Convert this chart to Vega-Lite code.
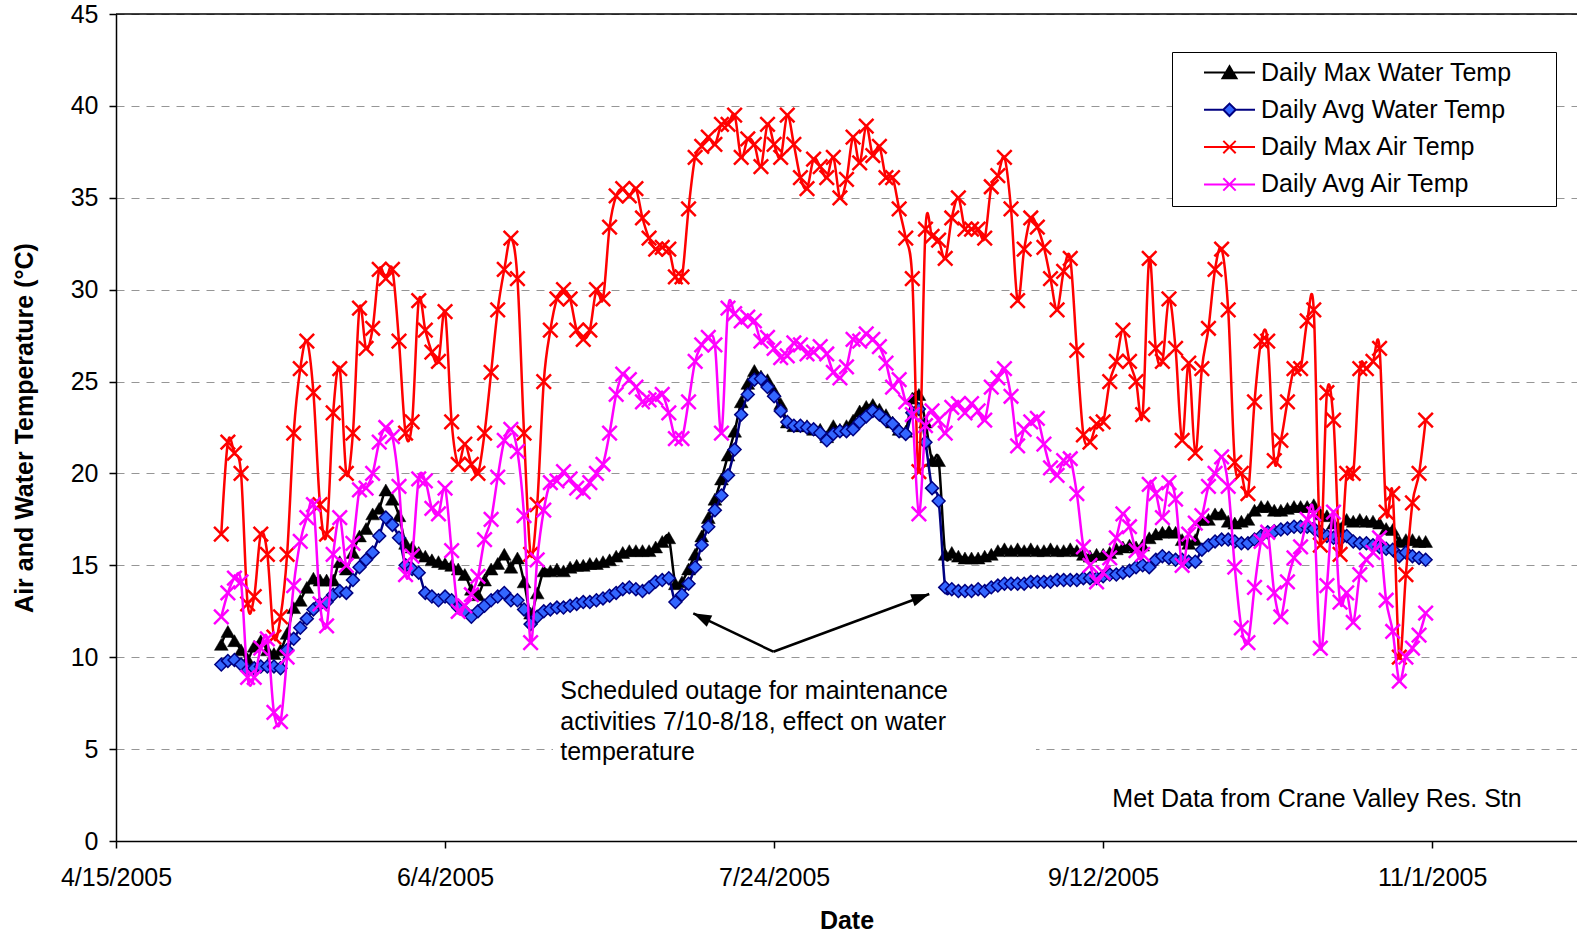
{
  "$schema": "https://vega.github.io/schema/vega-lite/v6.json",
  "width": 1461,
  "height": 827,
  "autosize": {"type": "none"},
  "padding": {"left": 116, "top": 14, "right": 0, "bottom": 94},
  "background": "white",
  "config": {
    "font": "Liberation Sans",
    "view": {"stroke": null},
    "axis": {"labelColor": "black", "titleColor": "black", "labelFont": "Liberation Sans", "titleFont": "Liberation Sans"}
  },
  "layer": [
    {
      "data": {"values": [
        {"date":"2005-05-01","maxWater":10.7,"avgWater":9.6,"maxAir":16.7,"avgAir":12.2},
        {"date":"2005-05-02","maxWater":11.4,"avgWater":9.8,"maxAir":21.7,"avgAir":13.5},
        {"date":"2005-05-03","maxWater":10.9,"avgWater":9.85,"maxAir":21.1,"avgAir":14.3},
        {"date":"2005-05-04","maxWater":10.4,"avgWater":9.6,"maxAir":20.0,"avgAir":14.1},
        {"date":"2005-05-05","maxWater":9.9,"avgWater":9.3,"maxAir":12.9,"avgAir":8.9},
        {"date":"2005-05-06","maxWater":10.6,"avgWater":9.4,"maxAir":13.3,"avgAir":8.9},
        {"date":"2005-05-07","maxWater":10.9,"avgWater":9.5,"maxAir":16.7,"avgAir":10.5},
        {"date":"2005-05-08","maxWater":10.4,"avgWater":9.5,"maxAir":15.6,"avgAir":11.0},
        {"date":"2005-05-09","maxWater":10.2,"avgWater":9.5,"maxAir":11.1,"avgAir":7.0},
        {"date":"2005-05-10","maxWater":10.4,"avgWater":9.4,"maxAir":12.2,"avgAir":6.5},
        {"date":"2005-05-11","maxWater":11.3,"avgWater":10.4,"maxAir":15.6,"avgAir":10.0},
        {"date":"2005-05-12","maxWater":12.7,"avgWater":11.0,"maxAir":22.2,"avgAir":13.9},
        {"date":"2005-05-13","maxWater":13.1,"avgWater":11.6,"maxAir":25.7,"avgAir":16.3},
        {"date":"2005-05-14","maxWater":13.8,"avgWater":12.1,"maxAir":27.2,"avgAir":17.6},
        {"date":"2005-05-15","maxWater":14.3,"avgWater":12.6,"maxAir":24.4,"avgAir":18.3},
        {"date":"2005-05-16","maxWater":14.2,"avgWater":12.9,"maxAir":18.3,"avgAir":12.9},
        {"date":"2005-05-17","maxWater":14.2,"avgWater":13.0,"maxAir":16.7,"avgAir":11.7},
        {"date":"2005-05-18","maxWater":14.2,"avgWater":13.4,"maxAir":23.3,"avgAir":15.6},
        {"date":"2005-05-19","maxWater":15.2,"avgWater":13.6,"maxAir":25.7,"avgAir":17.6},
        {"date":"2005-05-20","maxWater":14.8,"avgWater":13.5,"maxAir":20.0,"avgAir":15.0},
        {"date":"2005-05-21","maxWater":15.7,"avgWater":14.2,"maxAir":22.2,"avgAir":16.2},
        {"date":"2005-05-22","maxWater":16.6,"avgWater":14.9,"maxAir":29.0,"avgAir":19.1},
        {"date":"2005-05-23","maxWater":17.0,"avgWater":15.3,"maxAir":26.8,"avgAir":19.2},
        {"date":"2005-05-24","maxWater":17.8,"avgWater":15.7,"maxAir":27.9,"avgAir":20.0},
        {"date":"2005-05-25","maxWater":18.1,"avgWater":16.6,"maxAir":31.1,"avgAir":21.7},
        {"date":"2005-05-26","maxWater":19.1,"avgWater":17.6,"maxAir":30.6,"avgAir":22.5},
        {"date":"2005-05-27","maxWater":18.6,"avgWater":17.2,"maxAir":31.1,"avgAir":22.0},
        {"date":"2005-05-28","maxWater":17.7,"avgWater":16.5,"maxAir":27.2,"avgAir":19.3},
        {"date":"2005-05-29","maxWater":16.2,"avgWater":15.0,"maxAir":22.2,"avgAir":14.5},
        {"date":"2005-05-30","maxWater":16.0,"avgWater":14.8,"maxAir":22.8,"avgAir":15.5},
        {"date":"2005-05-31","maxWater":15.7,"avgWater":14.6,"maxAir":29.4,"avgAir":19.7},
        {"date":"2005-06-01","maxWater":15.5,"avgWater":13.5,"maxAir":27.8,"avgAir":19.6},
        {"date":"2005-06-02","maxWater":15.3,"avgWater":13.3,"maxAir":26.6,"avgAir":18.1},
        {"date":"2005-06-03","maxWater":15.2,"avgWater":13.1,"maxAir":26.1,"avgAir":17.8},
        {"date":"2005-06-04","maxWater":15.1,"avgWater":13.3,"maxAir":28.8,"avgAir":19.2},
        {"date":"2005-06-05","maxWater":15.0,"avgWater":13.1,"maxAir":22.8,"avgAir":15.8},
        {"date":"2005-06-06","maxWater":14.8,"avgWater":12.7,"maxAir":20.5,"avgAir":12.5},
        {"date":"2005-06-07","maxWater":14.5,"avgWater":12.5,"maxAir":21.6,"avgAir":12.8},
        {"date":"2005-06-08","maxWater":13.7,"avgWater":12.2,"maxAir":20.5,"avgAir":13.4},
        {"date":"2005-06-09","maxWater":13.4,"avgWater":12.5,"maxAir":20.0,"avgAir":14.4},
        {"date":"2005-06-10","maxWater":14.2,"avgWater":12.8,"maxAir":22.2,"avgAir":16.4},
        {"date":"2005-06-11","maxWater":14.8,"avgWater":13.1,"maxAir":25.5,"avgAir":17.5},
        {"date":"2005-06-12","maxWater":15.1,"avgWater":13.3,"maxAir":28.9,"avgAir":19.8},
        {"date":"2005-06-13","maxWater":15.6,"avgWater":13.5,"maxAir":31.1,"avgAir":21.8},
        {"date":"2005-06-14","maxWater":14.9,"avgWater":13.1,"maxAir":32.8,"avgAir":22.4},
        {"date":"2005-06-15","maxWater":15.4,"avgWater":13.1,"maxAir":30.6,"avgAir":21.2},
        {"date":"2005-06-16","maxWater":14.1,"avgWater":12.6,"maxAir":22.2,"avgAir":17.7},
        {"date":"2005-06-17","maxWater":12.4,"avgWater":11.8,"maxAir":15.6,"avgAir":10.8},
        {"date":"2005-06-18","maxWater":13.5,"avgWater":12.2,"maxAir":18.3,"avgAir":15.3},
        {"date":"2005-06-19","maxWater":14.7,"avgWater":12.5,"maxAir":25.0,"avgAir":18.0},
        {"date":"2005-06-20","maxWater":14.7,"avgWater":12.6,"maxAir":27.8,"avgAir":19.5},
        {"date":"2005-06-21","maxWater":14.8,"avgWater":12.7,"maxAir":29.5,"avgAir":19.6},
        {"date":"2005-06-22","maxWater":14.7,"avgWater":12.7,"maxAir":30.0,"avgAir":20.1},
        {"date":"2005-06-23","maxWater":14.9,"avgWater":12.8,"maxAir":29.5,"avgAir":19.7},
        {"date":"2005-06-24","maxWater":15.0,"avgWater":12.9,"maxAir":27.8,"avgAir":19.2},
        {"date":"2005-06-25","maxWater":15.0,"avgWater":13.0,"maxAir":27.3,"avgAir":19.0},
        {"date":"2005-06-26","maxWater":15.1,"avgWater":13.0,"maxAir":27.8,"avgAir":19.5},
        {"date":"2005-06-27","maxWater":15.1,"avgWater":13.1,"maxAir":30.0,"avgAir":20.0},
        {"date":"2005-06-28","maxWater":15.2,"avgWater":13.2,"maxAir":29.5,"avgAir":20.5},
        {"date":"2005-06-29","maxWater":15.3,"avgWater":13.35,"maxAir":33.4,"avgAir":22.2},
        {"date":"2005-06-30","maxWater":15.5,"avgWater":13.5,"maxAir":35.1,"avgAir":24.3},
        {"date":"2005-07-01","maxWater":15.7,"avgWater":13.7,"maxAir":35.5,"avgAir":25.4},
        {"date":"2005-07-02","maxWater":15.8,"avgWater":13.8,"maxAir":35.1,"avgAir":25.1},
        {"date":"2005-07-03","maxWater":15.8,"avgWater":13.7,"maxAir":35.5,"avgAir":24.7},
        {"date":"2005-07-04","maxWater":15.8,"avgWater":13.6,"maxAir":33.9,"avgAir":23.9},
        {"date":"2005-07-05","maxWater":15.8,"avgWater":13.8,"maxAir":32.8,"avgAir":24.0},
        {"date":"2005-07-06","maxWater":16.0,"avgWater":14.1,"maxAir":32.2,"avgAir":24.1},
        {"date":"2005-07-07","maxWater":16.3,"avgWater":14.2,"maxAir":32.3,"avgAir":24.3},
        {"date":"2005-07-08","maxWater":16.5,"avgWater":14.3,"maxAir":32.2,"avgAir":23.3},
        {"date":"2005-07-09","maxWater":14.0,"avgWater":13.0,"maxAir":30.7,"avgAir":21.9},
        {"date":"2005-07-10","maxWater":14.1,"avgWater":13.4,"maxAir":30.7,"avgAir":21.9},
        {"date":"2005-07-11","maxWater":14.8,"avgWater":14.0,"maxAir":34.4,"avgAir":23.9},
        {"date":"2005-07-12","maxWater":15.6,"avgWater":14.9,"maxAir":37.2,"avgAir":26.1},
        {"date":"2005-07-13","maxWater":16.6,"avgWater":16.1,"maxAir":37.8,"avgAir":27.0},
        {"date":"2005-07-14","maxWater":17.6,"avgWater":17.1,"maxAir":38.3,"avgAir":27.4},
        {"date":"2005-07-15","maxWater":18.6,"avgWater":18.0,"maxAir":37.9,"avgAir":27.0},
        {"date":"2005-07-16","maxWater":19.7,"avgWater":18.8,"maxAir":39.0,"avgAir":22.2},
        {"date":"2005-07-17","maxWater":21.0,"avgWater":19.9,"maxAir":39.0,"avgAir":29.0},
        {"date":"2005-07-18","maxWater":22.3,"avgWater":21.3,"maxAir":39.5,"avgAir":28.7},
        {"date":"2005-07-19","maxWater":23.9,"avgWater":23.2,"maxAir":37.2,"avgAir":28.3},
        {"date":"2005-07-20","maxWater":24.9,"avgWater":24.3,"maxAir":38.2,"avgAir":28.5},
        {"date":"2005-07-21","maxWater":25.6,"avgWater":25.1,"maxAir":37.9,"avgAir":28.3},
        {"date":"2005-07-22","maxWater":25.3,"avgWater":25.15,"maxAir":36.7,"avgAir":27.2},
        {"date":"2005-07-23","maxWater":25.1,"avgWater":24.7,"maxAir":39.0,"avgAir":27.4},
        {"date":"2005-07-24","maxWater":24.5,"avgWater":24.2,"maxAir":37.9,"avgAir":26.8},
        {"date":"2005-07-25","maxWater":23.8,"avgWater":23.4,"maxAir":37.2,"avgAir":26.3},
        {"date":"2005-07-26","maxWater":22.8,"avgWater":22.8,"maxAir":39.5,"avgAir":26.4},
        {"date":"2005-07-27","maxWater":22.6,"avgWater":22.6,"maxAir":37.9,"avgAir":27.1},
        {"date":"2005-07-28","maxWater":22.6,"avgWater":22.6,"maxAir":36.1,"avgAir":27.0},
        {"date":"2005-07-29","maxWater":22.6,"avgWater":22.5,"maxAir":35.5,"avgAir":26.5},
        {"date":"2005-07-30","maxWater":22.4,"avgWater":22.4,"maxAir":37.1,"avgAir":26.6},
        {"date":"2005-07-31","maxWater":22.4,"avgWater":22.2,"maxAir":36.7,"avgAir":26.9},
        {"date":"2005-08-01","maxWater":22.0,"avgWater":21.8,"maxAir":36.1,"avgAir":26.5},
        {"date":"2005-08-02","maxWater":22.6,"avgWater":22.15,"maxAir":37.2,"avgAir":25.5},
        {"date":"2005-08-03","maxWater":22.4,"avgWater":22.3,"maxAir":35.0,"avgAir":25.2},
        {"date":"2005-08-04","maxWater":22.6,"avgWater":22.3,"maxAir":36.0,"avgAir":25.8},
        {"date":"2005-08-05","maxWater":22.9,"avgWater":22.4,"maxAir":38.3,"avgAir":27.3},
        {"date":"2005-08-06","maxWater":23.4,"avgWater":22.8,"maxAir":36.9,"avgAir":27.2},
        {"date":"2005-08-07","maxWater":23.65,"avgWater":23.1,"maxAir":38.9,"avgAir":27.6},
        {"date":"2005-08-08","maxWater":23.75,"avgWater":23.4,"maxAir":37.3,"avgAir":27.3},
        {"date":"2005-08-09","maxWater":23.5,"avgWater":23.2,"maxAir":37.8,"avgAir":26.9},
        {"date":"2005-08-10","maxWater":23.2,"avgWater":22.9,"maxAir":36.1,"avgAir":26.0},
        {"date":"2005-08-11","maxWater":22.8,"avgWater":22.7,"maxAir":36.1,"avgAir":24.7},
        {"date":"2005-08-12","maxWater":22.4,"avgWater":22.3,"maxAir":34.4,"avgAir":25.1},
        {"date":"2005-08-13","maxWater":22.3,"avgWater":22.15,"maxAir":32.8,"avgAir":23.9},
        {"date":"2005-08-14","maxWater":24.1,"avgWater":23.3,"maxAir":30.6,"avgAir":23.2},
        {"date":"2005-08-15","maxWater":24.3,"avgWater":23.5,"maxAir":20.1,"avgAir":17.8},
        {"date":"2005-08-16","maxWater":22.8,"avgWater":21.7,"maxAir":33.3,"avgAir":22.6},
        {"date":"2005-08-17","maxWater":20.7,"avgWater":19.2,"maxAir":32.9,"avgAir":23.4},
        {"date":"2005-08-18","maxWater":20.7,"avgWater":18.5,"maxAir":32.7,"avgAir":22.9},
        {"date":"2005-08-19","maxWater":15.6,"avgWater":13.8,"maxAir":31.7,"avgAir":22.2},
        {"date":"2005-08-20","maxWater":15.7,"avgWater":13.7,"maxAir":33.9,"avgAir":23.6},
        {"date":"2005-08-21","maxWater":15.5,"avgWater":13.6,"maxAir":35.0,"avgAir":23.8},
        {"date":"2005-08-22","maxWater":15.4,"avgWater":13.6,"maxAir":33.3,"avgAir":23.3},
        {"date":"2005-08-23","maxWater":15.4,"avgWater":13.6,"maxAir":33.3,"avgAir":23.8},
        {"date":"2005-08-24","maxWater":15.4,"avgWater":13.7,"maxAir":33.3,"avgAir":23.4},
        {"date":"2005-08-25","maxWater":15.5,"avgWater":13.6,"maxAir":32.8,"avgAir":22.9},
        {"date":"2005-08-26","maxWater":15.6,"avgWater":13.8,"maxAir":35.6,"avgAir":24.7},
        {"date":"2005-08-27","maxWater":15.8,"avgWater":13.9,"maxAir":36.2,"avgAir":25.2},
        {"date":"2005-08-28","maxWater":15.9,"avgWater":14.0,"maxAir":37.2,"avgAir":25.7},
        {"date":"2005-08-29","maxWater":15.8,"avgWater":14.0,"maxAir":34.4,"avgAir":24.2},
        {"date":"2005-08-30","maxWater":15.9,"avgWater":14.0,"maxAir":29.4,"avgAir":21.5},
        {"date":"2005-08-31","maxWater":15.8,"avgWater":14.0,"maxAir":32.2,"avgAir":22.4},
        {"date":"2005-09-01","maxWater":15.9,"avgWater":14.1,"maxAir":33.9,"avgAir":22.8},
        {"date":"2005-09-02","maxWater":15.8,"avgWater":14.1,"maxAir":33.4,"avgAir":23.0},
        {"date":"2005-09-03","maxWater":15.8,"avgWater":14.1,"maxAir":32.3,"avgAir":21.6},
        {"date":"2005-09-04","maxWater":15.9,"avgWater":14.1,"maxAir":30.6,"avgAir":20.3},
        {"date":"2005-09-05","maxWater":15.8,"avgWater":14.2,"maxAir":28.9,"avgAir":19.9},
        {"date":"2005-09-06","maxWater":15.8,"avgWater":14.2,"maxAir":31.0,"avgAir":20.7},
        {"date":"2005-09-07","maxWater":15.9,"avgWater":14.2,"maxAir":31.7,"avgAir":20.8},
        {"date":"2005-09-08","maxWater":15.8,"avgWater":14.2,"maxAir":26.7,"avgAir":18.9},
        {"date":"2005-09-09","maxWater":15.6,"avgWater":14.3,"maxAir":22.1,"avgAir":16.0},
        {"date":"2005-09-10","maxWater":15.5,"avgWater":14.3,"maxAir":21.7,"avgAir":15.0},
        {"date":"2005-09-11","maxWater":15.6,"avgWater":14.3,"maxAir":22.7,"avgAir":14.1},
        {"date":"2005-09-12","maxWater":15.6,"avgWater":14.4,"maxAir":22.8,"avgAir":14.6},
        {"date":"2005-09-13","maxWater":15.7,"avgWater":14.5,"maxAir":25.0,"avgAir":15.4},
        {"date":"2005-09-14","maxWater":15.9,"avgWater":14.5,"maxAir":26.1,"avgAir":16.5},
        {"date":"2005-09-15","maxWater":16.0,"avgWater":14.6,"maxAir":27.8,"avgAir":17.8},
        {"date":"2005-09-16","maxWater":16.1,"avgWater":14.7,"maxAir":26.1,"avgAir":17.1},
        {"date":"2005-09-17","maxWater":16.0,"avgWater":14.9,"maxAir":25.0,"avgAir":15.8},
        {"date":"2005-09-18","maxWater":16.1,"avgWater":15.0,"maxAir":23.2,"avgAir":15.6},
        {"date":"2005-09-19","maxWater":16.5,"avgWater":14.9,"maxAir":31.7,"avgAir":19.4},
        {"date":"2005-09-20","maxWater":16.7,"avgWater":15.3,"maxAir":26.8,"avgAir":18.9},
        {"date":"2005-09-21","maxWater":16.8,"avgWater":15.5,"maxAir":26.1,"avgAir":17.6},
        {"date":"2005-09-22","maxWater":16.85,"avgWater":15.4,"maxAir":29.5,"avgAir":19.5},
        {"date":"2005-09-23","maxWater":16.8,"avgWater":15.3,"maxAir":26.8,"avgAir":18.6},
        {"date":"2005-09-24","maxWater":16.4,"avgWater":15.3,"maxAir":21.8,"avgAir":15.0},
        {"date":"2005-09-25","maxWater":16.2,"avgWater":15.2,"maxAir":26.0,"avgAir":16.7},
        {"date":"2005-09-26","maxWater":16.4,"avgWater":15.2,"maxAir":21.1,"avgAir":17.3},
        {"date":"2005-09-27","maxWater":17.5,"avgWater":15.85,"maxAir":25.7,"avgAir":17.7},
        {"date":"2005-09-28","maxWater":17.5,"avgWater":16.1,"maxAir":27.9,"avgAir":19.3},
        {"date":"2005-09-29","maxWater":17.8,"avgWater":16.3,"maxAir":31.1,"avgAir":20.0},
        {"date":"2005-09-30","maxWater":17.8,"avgWater":16.4,"maxAir":32.2,"avgAir":20.9},
        {"date":"2005-10-01","maxWater":17.4,"avgWater":16.4,"maxAir":28.9,"avgAir":19.3},
        {"date":"2005-10-02","maxWater":17.3,"avgWater":16.3,"maxAir":20.6,"avgAir":14.9},
        {"date":"2005-10-03","maxWater":17.4,"avgWater":16.2,"maxAir":20.0,"avgAir":11.6},
        {"date":"2005-10-04","maxWater":17.5,"avgWater":16.2,"maxAir":18.9,"avgAir":10.8},
        {"date":"2005-10-05","maxWater":18.0,"avgWater":16.4,"maxAir":23.9,"avgAir":13.8},
        {"date":"2005-10-06","maxWater":18.2,"avgWater":16.6,"maxAir":27.2,"avgAir":16.3},
        {"date":"2005-10-07","maxWater":18.2,"avgWater":16.8,"maxAir":27.2,"avgAir":16.8},
        {"date":"2005-10-08","maxWater":18.0,"avgWater":16.85,"maxAir":20.7,"avgAir":13.5},
        {"date":"2005-10-09","maxWater":18.0,"avgWater":16.95,"maxAir":21.8,"avgAir":12.2},
        {"date":"2005-10-10","maxWater":18.1,"avgWater":17.0,"maxAir":23.9,"avgAir":14.1},
        {"date":"2005-10-11","maxWater":18.2,"avgWater":17.1,"maxAir":25.7,"avgAir":15.4},
        {"date":"2005-10-12","maxWater":18.2,"avgWater":17.1,"maxAir":25.7,"avgAir":16.0},
        {"date":"2005-10-13","maxWater":18.2,"avgWater":17.1,"maxAir":28.3,"avgAir":17.5},
        {"date":"2005-10-14","maxWater":18.3,"avgWater":17.0,"maxAir":28.9,"avgAir":17.8},
        {"date":"2005-10-15","maxWater":17.8,"avgWater":16.8,"maxAir":16.1,"avgAir":10.5},
        {"date":"2005-10-16","maxWater":17.7,"avgWater":16.6,"maxAir":24.4,"avgAir":13.9},
        {"date":"2005-10-17","maxWater":17.3,"avgWater":16.5,"maxAir":22.9,"avgAir":17.9},
        {"date":"2005-10-18","maxWater":17.0,"avgWater":16.4,"maxAir":15.6,"avgAir":13.0},
        {"date":"2005-10-19","maxWater":17.5,"avgWater":16.6,"maxAir":20.0,"avgAir":13.5},
        {"date":"2005-10-20","maxWater":17.4,"avgWater":16.3,"maxAir":20.0,"avgAir":11.9},
        {"date":"2005-10-21","maxWater":17.5,"avgWater":16.2,"maxAir":25.7,"avgAir":14.5},
        {"date":"2005-10-22","maxWater":17.4,"avgWater":16.2,"maxAir":25.7,"avgAir":15.3},
        {"date":"2005-10-23","maxWater":17.4,"avgWater":16.1,"maxAir":26.1,"avgAir":15.7},
        {"date":"2005-10-24","maxWater":17.3,"avgWater":16.0,"maxAir":26.8,"avgAir":16.5},
        {"date":"2005-10-25","maxWater":17.0,"avgWater":15.9,"maxAir":17.9,"avgAir":13.1},
        {"date":"2005-10-26","maxWater":16.95,"avgWater":15.85,"maxAir":18.9,"avgAir":11.4},
        {"date":"2005-10-27","maxWater":16.3,"avgWater":15.5,"maxAir":10.0,"avgAir":8.7},
        {"date":"2005-10-28","maxWater":16.4,"avgWater":15.7,"maxAir":14.5,"avgAir":10.0},
        {"date":"2005-10-29","maxWater":16.4,"avgWater":15.5,"maxAir":18.4,"avgAir":10.5},
        {"date":"2005-10-30","maxWater":16.3,"avgWater":15.4,"maxAir":20.0,"avgAir":11.2},
        {"date":"2005-10-31","maxWater":16.3,"avgWater":15.3,"maxAir":22.9,"avgAir":12.4}
      ]},
      "transform": [{"fold": ["maxWater", "avgWater", "maxAir", "avgAir"], "as": ["series", "temp"]}],
      "encoding": {
        "x": {
          "field": "date", "type": "temporal",
          "scale": {"type": "utc", "domain": [{"year": 2005, "month": 4, "date": 15, "utc": true}, {"year": 2005, "month": 11, "date": 23, "utc": true}]},
          "axis": {
            "title": "Date",
            "values": [{"year": 2005, "month": 4, "date": 15, "utc": true}, {"year": 2005, "month": 6, "date": 4, "utc": true}, {"year": 2005, "month": 7, "date": 24, "utc": true}, {"year": 2005, "month": 9, "date": 12, "utc": true}, {"year": 2005, "month": 11, "date": 1, "utc": true}],
            "format": "%-m/%-d/%Y",
            "grid": false,
            "domainColor": "black", "domainWidth": 1.5,
            "tickColor": "black", "tickSize": 7, "tickWidth": 1.5,
            "labelFontSize": 25, "labelPadding": 17, "labelFlush": false, "labelOverlap": false,
            "titleFontSize": 25, "titleFontWeight": "bold", "titlePadding": 18
          }
        },
        "y": {
          "field": "temp", "type": "quantitative",
          "scale": {"domain": [0, 45], "nice": false},
          "axis": {
            "title": "Air and Water Temperature (°C)",
            "values": [0, 5, 10, 15, 20, 25, 30, 35, 40, 45],
            "grid": true, "gridColor": "#969696", "gridDash": [8, 7], "gridWidth": 1,
            "domainColor": "black", "domainWidth": 1.5,
            "tickColor": "black", "tickSize": 7, "tickWidth": 1.5,
            "labelFontSize": 25, "labelPadding": 11,
            "titleFontSize": 25, "titleFontWeight": "bold", "titlePadding": 33
          }
        }
      },
      "layer": [
        {
          "transform": [{"filter": "datum.series === 'maxWater'"}],
          "mark": {"type": "line", "stroke": "#000000", "strokeWidth": 2.5, "interpolate": "cardinal"}
        },
        {
          "transform": [{"filter": "datum.series === 'maxWater'"}],
          "mark": {"type": "point", "shape": "triangle-up", "size": 190, "filled": true, "fill": "#000000", "stroke": "#000000", "strokeWidth": 0.5, "opacity": 1}
        },
        {
          "transform": [{"filter": "datum.series === 'avgWater'"}],
          "mark": {"type": "line", "stroke": "#000080", "strokeWidth": 2.5, "interpolate": "cardinal"}
        },
        {
          "transform": [{"filter": "datum.series === 'avgWater'"}],
          "mark": {"type": "point", "shape": "diamond", "size": 165, "filled": true, "fill": "#3366FF", "stroke": "#000080", "strokeWidth": 1.5, "opacity": 1}
        },
        {
          "transform": [{"filter": "datum.series === 'maxAir'"}],
          "mark": {"type": "line", "stroke": "#FF0000", "strokeWidth": 2.5, "interpolate": "cardinal"}
        },
        {
          "transform": [{"filter": "datum.series === 'maxAir'"}],
          "mark": {"type": "point", "shape": "M-1,-1L1,1M-1,1L1,-1", "size": 210, "filled": false, "stroke": "#FF0000", "strokeWidth": 2.5, "opacity": 1}
        },
        {
          "transform": [{"filter": "datum.series === 'avgAir'"}],
          "mark": {"type": "line", "stroke": "#FF00FF", "strokeWidth": 2.5, "interpolate": "cardinal"}
        },
        {
          "transform": [{"filter": "datum.series === 'avgAir'"}],
          "mark": {"type": "point", "shape": "M-1,-1L1,1M-1,1L1,-1", "size": 210, "filled": false, "stroke": "#FF00FF", "strokeWidth": 2.5, "opacity": 1}
        },
        {
          "mark": {"type": "point", "opacity": 0},
          "encoding": {
            "shape": {
              "field": "series", "type": "nominal",
              "scale": {"domain": ["maxWater", "avgWater", "maxAir", "avgAir"], "range": [
                "M-2.55,0L2.55,0M0,-0.62L0.7,0.58L-0.7,0.58Z",
                "M-2.55,0L-0.62,0M0.62,0L2.55,0M0,-0.62L0.62,0L0,0.62L-0.62,0Z",
                "M-2.55,0L2.55,0M-0.62,-0.62L0.62,0.62M-0.62,0.62L0.62,-0.62",
                "M-2.55,0L2.55,0M-0.62,-0.62L0.62,0.62M-0.62,0.62L0.62,-0.62"
              ]},
              "legend": {
                "orient": "none", "legendX": 1056, "legendY": 38, "title": null, "direction": "vertical",
                "labelExpr": "datum.value === 'maxWater' ? 'Daily Max Water Temp\u2800\u2800' : datum.value === 'avgWater' ? 'Daily Avg Water Temp' : datum.value === 'maxAir' ? 'Daily Max Air Temp' : 'Daily Avg Air Temp'",
                "labelFontSize": 25, "labelColor": "black", "labelLimit": 600,
                "symbolSize": 400, "symbolStrokeWidth": 2, "symbolOpacity": 1,
                "symbolOffset": 37, "labelOffset": 19, "rowPadding": 11.3,
                "padding": 8, "strokeColor": "black", "fillColor": "white"
              }
            },
            "fill": {
              "field": "series", "type": "nominal",
              "scale": {"domain": ["maxWater", "avgWater", "maxAir", "avgAir"], "range": ["#000000", "#3366FF", "transparent", "transparent"]},
              "legend": {
                "orient": "none", "legendX": 1056, "legendY": 38, "title": null, "direction": "vertical",
                "labelExpr": "datum.value === 'maxWater' ? 'Daily Max Water Temp\u2800\u2800' : datum.value === 'avgWater' ? 'Daily Avg Water Temp' : datum.value === 'maxAir' ? 'Daily Max Air Temp' : 'Daily Avg Air Temp'",
                "labelFontSize": 25, "labelColor": "black", "labelLimit": 600,
                "symbolSize": 400, "symbolStrokeWidth": 2, "symbolOpacity": 1,
                "symbolOffset": 37, "labelOffset": 19, "rowPadding": 11.3,
                "padding": 8, "strokeColor": "black", "fillColor": "white"
              }
            },
            "stroke": {
              "field": "series", "type": "nominal",
              "scale": {"domain": ["maxWater", "avgWater", "maxAir", "avgAir"], "range": ["#000000", "#000080", "#FF0000", "#FF00FF"]},
              "legend": {
                "orient": "none", "legendX": 1056, "legendY": 38, "title": null, "direction": "vertical",
                "labelExpr": "datum.value === 'maxWater' ? 'Daily Max Water Temp\u2800\u2800' : datum.value === 'avgWater' ? 'Daily Avg Water Temp' : datum.value === 'maxAir' ? 'Daily Max Air Temp' : 'Daily Avg Air Temp'",
                "labelFontSize": 25, "labelColor": "black", "labelLimit": 600,
                "symbolSize": 400, "symbolStrokeWidth": 2, "symbolOpacity": 1,
                "symbolOffset": 37, "labelOffset": 19, "rowPadding": 11.3,
                "padding": 8, "strokeColor": "black", "fillColor": "white"
              }
            }
          }
        }
      ]
    },
    {
      "data": {"values": [{}]},
      "mark": {"type": "rect", "fill": "white"},
      "encoding": {
        "x": {"datum": {"year": 2005, "month": 6, "date": 20, "hours": 9, "minutes": 36, "utc": true}, "type": "temporal", "scale": {"type": "utc", "domain": [{"year": 2005, "month": 4, "date": 15, "utc": true}, {"year": 2005, "month": 11, "date": 23, "utc": true}]}},
        "x2": {"datum": {"year": 2005, "month": 9, "date": 1, "hours": 19, "utc": true}},
        "y": {"datum": 9.19, "type": "quantitative", "scale": {"domain": [0, 45], "nice": false}},
        "y2": {"datum": 3.85}
      }
    },
    {
      "data": {"values": [{}]},
      "mark": {"type": "rule", "color": "black", "strokeWidth": 1.5},
      "encoding": {
        "y": {"datum": 45, "type": "quantitative", "scale": {"domain": [0, 45], "nice": false}}
      }
    },
    {
      "data": {"values": [{}]},
      "mark": {"type": "text", "align": "left", "baseline": "top", "fontSize": 25, "lineHeight": 30.5, "color": "black",
        "text": ["Scheduled outage for maintenance", "activities 7/10-8/18, effect on water", "temperature"]},
      "encoding": {
        "x": {"datum": {"year": 2005, "month": 6, "date": 21, "hours": 12, "utc": true}, "type": "temporal", "scale": {"type": "utc", "domain": [{"year": 2005, "month": 4, "date": 15, "utc": true}, {"year": 2005, "month": 11, "date": 23, "utc": true}]}},
        "y": {"datum": 8.79, "type": "quantitative", "scale": {"domain": [0, 45], "nice": false}}
      }
    },
    {
      "data": {"values": [{}]},
      "mark": {"type": "text", "align": "left", "baseline": "middle", "fontSize": 25, "color": "black", "text": "Met Data from Crane Valley Res. Stn"},
      "encoding": {
        "x": {"datum": {"year": 2005, "month": 9, "date": 13, "hours": 9, "minutes": 22, "utc": true}, "type": "temporal", "scale": {"type": "utc", "domain": [{"year": 2005, "month": 4, "date": 15, "utc": true}, {"year": 2005, "month": 11, "date": 23, "utc": true}]}},
        "y": {"datum": 2.27, "type": "quantitative", "scale": {"domain": [0, 45], "nice": false}}
      }
    },
    {
      "data": {"values": [{}]},
      "mark": {"type": "rule", "color": "black", "strokeWidth": 2.5},
      "encoding": {
        "x": {"datum": {"year": 2005, "month": 7, "date": 23, "hours": 21, "minutes": 7, "utc": true}, "type": "temporal", "scale": {"type": "utc", "domain": [{"year": 2005, "month": 4, "date": 15, "utc": true}, {"year": 2005, "month": 11, "date": 23, "utc": true}]}},
        "y": {"datum": 10.30, "type": "quantitative", "scale": {"domain": [0, 45], "nice": false}},
        "x2": {"datum": {"year": 2005, "month": 7, "date": 11, "hours": 17, "minutes": 17, "utc": true}},
        "y2": {"datum": 12.39}
      }
    },
    {
      "data": {"values": [{}]},
      "mark": {"type": "rule", "color": "black", "strokeWidth": 2.5},
      "encoding": {
        "x": {"datum": {"year": 2005, "month": 7, "date": 23, "hours": 21, "minutes": 7, "utc": true}, "type": "temporal", "scale": {"type": "utc", "domain": [{"year": 2005, "month": 4, "date": 15, "utc": true}, {"year": 2005, "month": 11, "date": 23, "utc": true}]}},
        "y": {"datum": 10.30, "type": "quantitative", "scale": {"domain": [0, 45], "nice": false}},
        "x2": {"datum": {"year": 2005, "month": 8, "date": 16, "hours": 13, "minutes": 55, "utc": true}},
        "y2": {"datum": 13.44}
      }
    },
    {
      "data": {"values": [{}]},
      "mark": {"type": "point", "shape": "M0,-1L0.7,1L-0.7,1Z", "size": 324, "filled": true, "color": "black", "opacity": 1, "angle": 295.7},
      "encoding": {
        "x": {"datum": {"year": 2005, "month": 7, "date": 12, "hours": 22, "minutes": 48, "utc": true}, "type": "temporal", "scale": {"type": "utc", "domain": [{"year": 2005, "month": 4, "date": 15, "utc": true}, {"year": 2005, "month": 11, "date": 23, "utc": true}]}},
        "y": {"datum": 12.18, "type": "quantitative", "scale": {"domain": [0, 45], "nice": false}}
      }
    },
    {
      "data": {"values": [{}]},
      "mark": {"type": "point", "shape": "M0,-1L0.7,1L-0.7,1Z", "size": 324, "filled": true, "color": "black", "opacity": 1, "angle": 69.7},
      "encoding": {
        "x": {"datum": {"year": 2005, "month": 8, "date": 15, "hours": 7, "minutes": 12, "utc": true}, "type": "temporal", "scale": {"type": "utc", "domain": [{"year": 2005, "month": 4, "date": 15, "utc": true}, {"year": 2005, "month": 11, "date": 23, "utc": true}]}},
        "y": {"datum": 13.27, "type": "quantitative", "scale": {"domain": [0, 45], "nice": false}}
      }
    }
  ]
}
